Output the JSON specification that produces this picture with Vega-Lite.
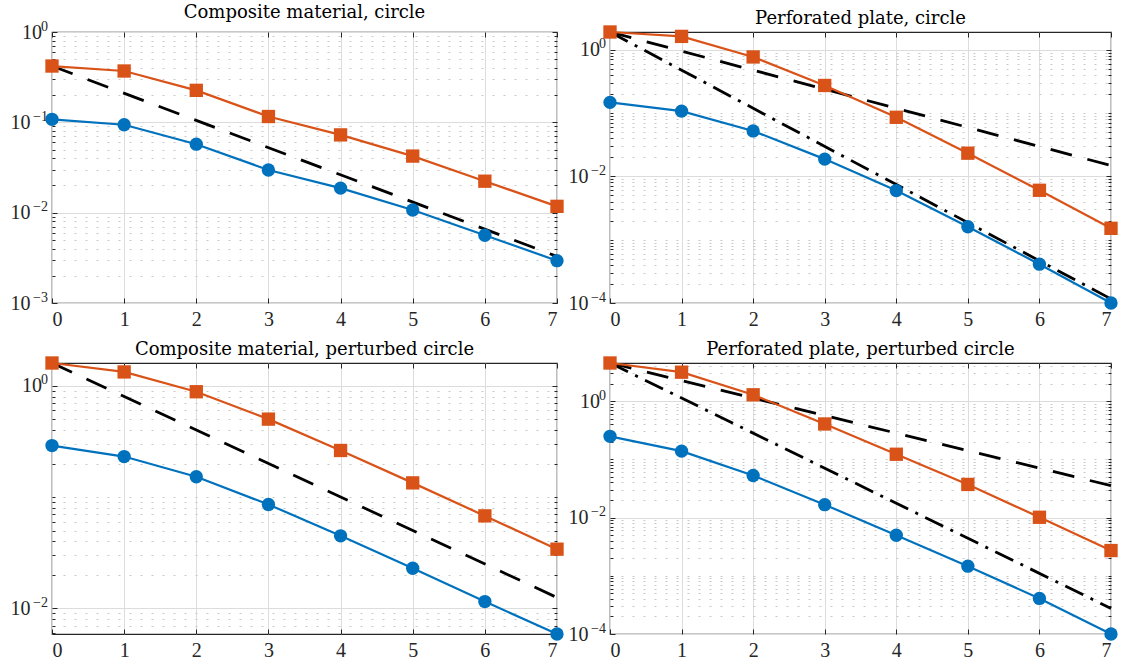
{
  "$schema": "https://vega.github.io/schema/vega-lite/v6.json",
  "background": "white",
  "padding": {"left": 9, "top": 3, "right": 5, "bottom": 0},
  "datasets": {
    "d": [
      {"p": "A", "s": "blue", "k": 0, "v": 0.108},
      {"p": "A", "s": "blue", "k": 1, "v": 0.094},
      {"p": "A", "s": "blue", "k": 2, "v": 0.0573},
      {"p": "A", "s": "blue", "k": 3, "v": 0.0297},
      {"p": "A", "s": "blue", "k": 4, "v": 0.0187},
      {"p": "A", "s": "blue", "k": 5, "v": 0.0107},
      {"p": "A", "s": "blue", "k": 6, "v": 0.00563},
      {"p": "A", "s": "blue", "k": 7, "v": 0.00294},
      {"p": "A", "s": "orange", "k": 0, "v": 0.42},
      {"p": "A", "s": "orange", "k": 1, "v": 0.37},
      {"p": "A", "s": "orange", "k": 2, "v": 0.226},
      {"p": "A", "s": "orange", "k": 3, "v": 0.116},
      {"p": "A", "s": "orange", "k": 4, "v": 0.0726},
      {"p": "A", "s": "orange", "k": 5, "v": 0.0423},
      {"p": "A", "s": "orange", "k": 6, "v": 0.0223},
      {"p": "A", "s": "orange", "k": 7, "v": 0.01175},
      {"p": "A", "s": "dash", "k": 0, "v": 0.42},
      {"p": "A", "s": "dash", "k": 7, "v": 0.00328},

      {"p": "B", "s": "blue", "k": 0, "v": 0.147},
      {"p": "B", "s": "blue", "k": 1, "v": 0.107},
      {"p": "B", "s": "blue", "k": 2, "v": 0.0521},
      {"p": "B", "s": "blue", "k": 3, "v": 0.0187},
      {"p": "B", "s": "blue", "k": 4, "v": 0.00596},
      {"p": "B", "s": "blue", "k": 5, "v": 0.0016},
      {"p": "B", "s": "blue", "k": 6, "v": 0.00041},
      {"p": "B", "s": "blue", "k": 7, "v": 0.0001},
      {"p": "B", "s": "orange", "k": 0, "v": 1.9},
      {"p": "B", "s": "orange", "k": 1, "v": 1.62},
      {"p": "B", "s": "orange", "k": 2, "v": 0.767},
      {"p": "B", "s": "orange", "k": 3, "v": 0.272},
      {"p": "B", "s": "orange", "k": 4, "v": 0.0855},
      {"p": "B", "s": "orange", "k": 5, "v": 0.0232},
      {"p": "B", "s": "orange", "k": 6, "v": 0.00602},
      {"p": "B", "s": "orange", "k": 7, "v": 0.00151},
      {"p": "B", "s": "dash", "k": 0, "v": 1.9},
      {"p": "B", "s": "dash", "k": 7, "v": 0.0148},
      {"p": "B", "s": "dashdot", "k": 0, "v": 1.9},
      {"p": "B", "s": "dashdot", "k": 7, "v": 0.000116},

      {"p": "C", "s": "blue", "k": 0, "v": 0.29},
      {"p": "C", "s": "blue", "k": 1, "v": 0.231},
      {"p": "C", "s": "blue", "k": 2, "v": 0.152},
      {"p": "C", "s": "blue", "k": 3, "v": 0.0857},
      {"p": "C", "s": "blue", "k": 4, "v": 0.0448},
      {"p": "C", "s": "blue", "k": 5, "v": 0.0229},
      {"p": "C", "s": "blue", "k": 6, "v": 0.0115},
      {"p": "C", "s": "blue", "k": 7, "v": 0.00588},
      {"p": "C", "s": "orange", "k": 0, "v": 1.6},
      {"p": "C", "s": "orange", "k": 1, "v": 1.33},
      {"p": "C", "s": "orange", "k": 2, "v": 0.883},
      {"p": "C", "s": "orange", "k": 3, "v": 0.501},
      {"p": "C", "s": "orange", "k": 4, "v": 0.262},
      {"p": "C", "s": "orange", "k": 5, "v": 0.134},
      {"p": "C", "s": "orange", "k": 6, "v": 0.0677},
      {"p": "C", "s": "orange", "k": 7, "v": 0.034},
      {"p": "C", "s": "dash", "k": 0, "v": 1.6},
      {"p": "C", "s": "dash", "k": 7, "v": 0.0125},

      {"p": "D", "s": "blue", "k": 0, "v": 0.248},
      {"p": "D", "s": "blue", "k": 1, "v": 0.138},
      {"p": "D", "s": "blue", "k": 2, "v": 0.0527},
      {"p": "D", "s": "blue", "k": 3, "v": 0.0166},
      {"p": "D", "s": "blue", "k": 4, "v": 0.00496},
      {"p": "D", "s": "blue", "k": 5, "v": 0.00146},
      {"p": "D", "s": "blue", "k": 6, "v": 0.000408},
      {"p": "D", "s": "blue", "k": 7, "v": 0.0001},
      {"p": "D", "s": "orange", "k": 0, "v": 4.5},
      {"p": "D", "s": "orange", "k": 1, "v": 3.13},
      {"p": "D", "s": "orange", "k": 2, "v": 1.28},
      {"p": "D", "s": "orange", "k": 3, "v": 0.404},
      {"p": "D", "s": "orange", "k": 4, "v": 0.122},
      {"p": "D", "s": "orange", "k": 5, "v": 0.037},
      {"p": "D", "s": "orange", "k": 6, "v": 0.0101},
      {"p": "D", "s": "orange", "k": 7, "v": 0.00271},
      {"p": "D", "s": "dash", "k": 0, "v": 4.5},
      {"p": "D", "s": "dash", "k": 7, "v": 0.0352},
      {"p": "D", "s": "dashdot", "k": 0, "v": 4.5},
      {"p": "D", "s": "dashdot", "k": 7, "v": 0.000275}
    ]
  },
  "columns": 2,
  "spacing": {"row": 60, "column": 53},
  "bounds": "flush",
  "concat": [
    {
      "width": 505, "height": 271,
      "title": {"text": "Composite material, circle", "fontSize": 18, "font": "DejaVu Serif", "fontWeight": "normal", "offset": -3, "frame": "group"},
      "data": {"name": "d"},
      "transform": [{"filter": "datum.p == 'A'"}],
      "layer": [
        {
          "transform": [{"filter": "datum.s == 'dash' || datum.s == 'dashdot'"}],
          "mark": {"type": "line", "color": "black", "strokeWidth": 2.8},
          "encoding": {
            "x": {"field": "k", "type": "quantitative", "scale": {"domain": [0, 7], "nice": false},
              "axis": {"values": [0,1,2,3,4,5,6,7], "grid": true, "gridColor": "#dcdcdc", "tickSize": -5, "labelPadding": 11, "labelFontSize": 20, "domain": false, "title": null}},
            "y": {"field": "v", "type": "quantitative", "scale": {"type": "log", "domain": [0.001, 1], "nice": false},
              "axis": {"values": [0.001,0.002,0.003,0.004,0.005,0.006,0.007,0.008,0.009,0.01,0.02,0.03,0.04,0.05,0.06,0.07,0.08,0.09,0.1,0.2,0.3,0.4,0.5,0.6,0.7,0.8,0.9,1],
                "labelExpr": "datum.value == 1 || datum.value == 0.1 || datum.value == 0.01 || datum.value == 0.001 ? '10' : ''",
                "grid": true,
                "gridColor": {"condition": {"test": "datum.value == 1 || datum.value == 0.1 || datum.value == 0.01 || datum.value == 0.001", "value": "#dcdcdc"}, "value": "#c8c8c8"},
                "gridDash": {"condition": {"test": "datum.value == 1 || datum.value == 0.1 || datum.value == 0.01 || datum.value == 0.001", "value": []}, "value": [2, 9]},
                "tickSize": {"condition": {"test": "datum.value == 1 || datum.value == 0.1 || datum.value == 0.01 || datum.value == 0.001", "value": -5}, "value": -3},
                "labelPadding": {"condition": {"test": "datum.value == 1", "value": 15.5}, "value": 27},
                "labelFontSize": 20, "domain": false, "title": null}},
            "strokeDash": {"field": "s", "type": "nominal", "scale": {"domain": ["dash", "dashdot"], "range": [[22, 16], [20, 8, 3, 8]]}, "legend": null}
          }
        },
        {
          "transform": [{"filter": "datum.s == 'blue' || datum.s == 'orange'"}],
          "mark": {"type": "line", "strokeWidth": 2.2},
          "encoding": {
            "x": {"field": "k", "type": "quantitative", "axis": null},
            "y": {"field": "v", "type": "quantitative",
              "axis": {"orient": "left", "values": [0.001, 0.01, 0.1, 1], "ticks": false, "grid": false, "domain": false, "title": null,
                "labelExpr": "datum.value == 1 ? '0' : datum.value == 0.1 ? '−1' : datum.value == 0.01 ? '−2' : '−3'",
                "labelFontSize": 14, "labelPadding": 4.5, "labelBaseline": "alphabetic", "labelOffset": -2}},
            "color": {"field": "s", "type": "nominal", "scale": {"domain": ["blue", "orange"], "range": ["#0072BD", "#D95319"]}, "legend": null}
          }
        },
        {
          "transform": [{"filter": "datum.s == 'blue' || datum.s == 'orange'"}],
          "mark": {"type": "point", "filled": true, "opacity": 1, "size": 178},
          "encoding": {
            "x": {"field": "k", "type": "quantitative",
              "axis": {"orient": "top", "values": [0,1,2,3,4,5,6,7], "labels": false, "grid": false, "domain": false, "tickSize": -5, "title": null}},
            "y": {"field": "v", "type": "quantitative",
              "axis": {"orient": "right", "values": [0.001,0.002,0.003,0.004,0.005,0.006,0.007,0.008,0.009,0.01,0.02,0.03,0.04,0.05,0.06,0.07,0.08,0.09,0.1,0.2,0.3,0.4,0.5,0.6,0.7,0.8,0.9,1],
                "labels": false, "grid": false, "domain": false, "title": null,
                "tickSize": {"condition": {"test": "datum.value == 1 || datum.value == 0.1 || datum.value == 0.01 || datum.value == 0.001", "value": -5}, "value": -3}}},
            "color": {"field": "s", "type": "nominal", "legend": null},
            "shape": {"field": "s", "type": "nominal", "scale": {"domain": ["blue", "orange"], "range": ["circle", "square"]}, "legend": null}
          }
        }
      ],
      "resolve": {"axis": {"x": "independent", "y": "independent"}}
    },
    {
      "width": 501, "height": 271,
      "title": {"text": "Perforated plate, circle", "fontSize": 18, "font": "DejaVu Serif", "fontWeight": "normal", "offset": -3, "frame": "group"},
      "data": {"name": "d"},
      "transform": [{"filter": "datum.p == 'B'"}],
      "layer": [
        {
          "transform": [{"filter": "datum.s == 'dash' || datum.s == 'dashdot'"}],
          "mark": {"type": "line", "color": "black", "strokeWidth": 2.8},
          "encoding": {
            "x": {"field": "k", "type": "quantitative", "scale": {"domain": [0, 7], "nice": false},
              "axis": {"values": [0,1,2,3,4,5,6,7], "grid": true, "gridColor": "#dcdcdc", "tickSize": -5, "labelPadding": 11, "labelFontSize": 20, "domain": false, "title": null}},
            "y": {"field": "v", "type": "quantitative", "scale": {"type": "log", "domain": [0.0001, 1.9], "nice": false},
              "axis": {"values": [0.0001,0.0002,0.0003,0.0004,0.0005,0.0006,0.0007,0.0008,0.0009,0.001,0.002,0.003,0.004,0.005,0.006,0.007,0.008,0.009,0.01,0.02,0.03,0.04,0.05,0.06,0.07,0.08,0.09,0.1,0.2,0.3,0.4,0.5,0.6,0.7,0.8,0.9,1],
                "labelExpr": "datum.value == 1 || datum.value == 0.01 || datum.value == 0.0001 ? '10' : ''",
                "grid": true,
                "gridColor": {"condition": {"test": "datum.value == 1 || datum.value == 0.01 || datum.value == 0.0001", "value": "#dcdcdc"}, "value": "#c8c8c8"},
                "gridDash": {"condition": {"test": "datum.value == 1 || datum.value == 0.01 || datum.value == 0.0001", "value": []}, "value": [2, 9]},
                "tickSize": {"condition": {"test": "datum.value == 1 || datum.value == 0.01 || datum.value == 0.0001", "value": -5}, "value": -3},
                "labelPadding": {"condition": {"test": "datum.value == 1", "value": 15.5}, "value": 27},
                "labelFontSize": 20, "domain": false, "title": null}},
            "strokeDash": {"field": "s", "type": "nominal", "scale": {"domain": ["dash", "dashdot"], "range": [[22, 16], [20, 8, 3, 8]]}, "legend": null}
          }
        },
        {
          "transform": [{"filter": "datum.s == 'blue' || datum.s == 'orange'"}],
          "mark": {"type": "line", "strokeWidth": 2.2},
          "encoding": {
            "x": {"field": "k", "type": "quantitative", "axis": null},
            "y": {"field": "v", "type": "quantitative",
              "axis": {"orient": "left", "values": [0.0001, 0.01, 1], "ticks": false, "grid": false, "domain": false, "title": null,
                "labelExpr": "datum.value == 1 ? '0' : datum.value == 0.01 ? '−2' : '−4'",
                "labelFontSize": 14, "labelPadding": 4.5, "labelBaseline": "alphabetic", "labelOffset": -2}},
            "color": {"field": "s", "type": "nominal", "legend": null}
          }
        },
        {
          "transform": [{"filter": "datum.s == 'blue' || datum.s == 'orange'"}],
          "mark": {"type": "point", "filled": true, "opacity": 1, "size": 178},
          "encoding": {
            "x": {"field": "k", "type": "quantitative",
              "axis": {"orient": "top", "values": [0,1,2,3,4,5,6,7], "labels": false, "grid": false, "domain": false, "tickSize": -5, "title": null}},
            "y": {"field": "v", "type": "quantitative",
              "axis": {"orient": "right", "values": [0.0001,0.0002,0.0003,0.0004,0.0005,0.0006,0.0007,0.0008,0.0009,0.001,0.002,0.003,0.004,0.005,0.006,0.007,0.008,0.009,0.01,0.02,0.03,0.04,0.05,0.06,0.07,0.08,0.09,0.1,0.2,0.3,0.4,0.5,0.6,0.7,0.8,0.9,1],
                "labels": false, "grid": false, "domain": false, "title": null,
                "tickSize": {"condition": {"test": "datum.value == 1 || datum.value == 0.01 || datum.value == 0.0001", "value": -5}, "value": -3}}},
            "color": {"field": "s", "type": "nominal", "legend": null},
            "shape": {"field": "s", "type": "nominal", "scale": {"domain": ["blue", "orange"], "range": ["circle", "square"]}, "legend": null}
          }
        }
      ],
      "resolve": {"axis": {"x": "independent", "y": "independent"}}
    },
    {
      "width": 505, "height": 271,
      "title": {"text": "Composite material, perturbed circle", "fontSize": 18, "font": "DejaVu Serif", "fontWeight": "normal", "offset": -3, "frame": "group"},
      "data": {"name": "d"},
      "transform": [{"filter": "datum.p == 'C'"}],
      "layer": [
        {
          "transform": [{"filter": "datum.s == 'dash' || datum.s == 'dashdot'"}],
          "mark": {"type": "line", "color": "black", "strokeWidth": 2.8},
          "encoding": {
            "x": {"field": "k", "type": "quantitative", "scale": {"domain": [0, 7], "nice": false},
              "axis": {"values": [0,1,2,3,4,5,6,7], "grid": true, "gridColor": "#dcdcdc", "tickSize": -5, "labelPadding": 11, "labelFontSize": 20, "domain": false, "title": null}},
            "y": {"field": "v", "type": "quantitative", "scale": {"type": "log", "domain": [0.00588, 1.6], "nice": false},
              "axis": {"values": [0.006,0.007,0.008,0.009,0.01,0.02,0.03,0.04,0.05,0.06,0.07,0.08,0.09,0.1,0.2,0.3,0.4,0.5,0.6,0.7,0.8,0.9,1],
                "labelExpr": "datum.value == 1 || datum.value == 0.01 ? '10' : ''",
                "grid": true,
                "gridColor": {"condition": {"test": "datum.value == 1 || datum.value == 0.01", "value": "#dcdcdc"}, "value": "#c8c8c8"},
                "gridDash": {"condition": {"test": "datum.value == 1 || datum.value == 0.01", "value": []}, "value": [2, 9]},
                "tickSize": {"condition": {"test": "datum.value == 1 || datum.value == 0.01", "value": -5}, "value": -3},
                "labelPadding": {"condition": {"test": "datum.value == 1", "value": 15.5}, "value": 27},
                "labelFontSize": 20, "domain": false, "title": null}},
            "strokeDash": {"field": "s", "type": "nominal", "scale": {"domain": ["dash", "dashdot"], "range": [[22, 16], [20, 8, 3, 8]]}, "legend": null}
          }
        },
        {
          "transform": [{"filter": "datum.s == 'blue' || datum.s == 'orange'"}],
          "mark": {"type": "line", "strokeWidth": 2.2},
          "encoding": {
            "x": {"field": "k", "type": "quantitative", "axis": null},
            "y": {"field": "v", "type": "quantitative",
              "axis": {"orient": "left", "values": [0.01, 1], "ticks": false, "grid": false, "domain": false, "title": null,
                "labelExpr": "datum.value == 1 ? '0' : '−2'",
                "labelFontSize": 14, "labelPadding": 4.5, "labelBaseline": "alphabetic", "labelOffset": -2}},
            "color": {"field": "s", "type": "nominal", "legend": null}
          }
        },
        {
          "transform": [{"filter": "datum.s == 'blue' || datum.s == 'orange'"}],
          "mark": {"type": "point", "filled": true, "opacity": 1, "size": 178},
          "encoding": {
            "x": {"field": "k", "type": "quantitative",
              "axis": {"orient": "top", "values": [0,1,2,3,4,5,6,7], "labels": false, "grid": false, "domain": false, "tickSize": -5, "title": null}},
            "y": {"field": "v", "type": "quantitative",
              "axis": {"orient": "right", "values": [0.006,0.007,0.008,0.009,0.01,0.02,0.03,0.04,0.05,0.06,0.07,0.08,0.09,0.1,0.2,0.3,0.4,0.5,0.6,0.7,0.8,0.9,1],
                "labels": false, "grid": false, "domain": false, "title": null,
                "tickSize": {"condition": {"test": "datum.value == 1 || datum.value == 0.01", "value": -5}, "value": -3}}},
            "color": {"field": "s", "type": "nominal", "legend": null},
            "shape": {"field": "s", "type": "nominal", "scale": {"domain": ["blue", "orange"], "range": ["circle", "square"]}, "legend": null}
          }
        }
      ],
      "resolve": {"axis": {"x": "independent", "y": "independent"}}
    },
    {
      "width": 501, "height": 271,
      "title": {"text": "Perforated plate, perturbed circle", "fontSize": 18, "font": "DejaVu Serif", "fontWeight": "normal", "offset": -3, "frame": "group"},
      "data": {"name": "d"},
      "transform": [{"filter": "datum.p == 'D'"}],
      "layer": [
        {
          "transform": [{"filter": "datum.s == 'dash' || datum.s == 'dashdot'"}],
          "mark": {"type": "line", "color": "black", "strokeWidth": 2.8},
          "encoding": {
            "x": {"field": "k", "type": "quantitative", "scale": {"domain": [0, 7], "nice": false},
              "axis": {"values": [0,1,2,3,4,5,6,7], "grid": true, "gridColor": "#dcdcdc", "tickSize": -5, "labelPadding": 11, "labelFontSize": 20, "domain": false, "title": null}},
            "y": {"field": "v", "type": "quantitative", "scale": {"type": "log", "domain": [0.0001, 4.5], "nice": false},
              "axis": {"values": [0.0001,0.0002,0.0003,0.0004,0.0005,0.0006,0.0007,0.0008,0.0009,0.001,0.002,0.003,0.004,0.005,0.006,0.007,0.008,0.009,0.01,0.02,0.03,0.04,0.05,0.06,0.07,0.08,0.09,0.1,0.2,0.3,0.4,0.5,0.6,0.7,0.8,0.9,1,2,3,4],
                "labelExpr": "datum.value == 1 || datum.value == 0.01 || datum.value == 0.0001 ? '10' : ''",
                "grid": true,
                "gridColor": {"condition": {"test": "datum.value == 1 || datum.value == 0.01 || datum.value == 0.0001", "value": "#dcdcdc"}, "value": "#c8c8c8"},
                "gridDash": {"condition": {"test": "datum.value == 1 || datum.value == 0.01 || datum.value == 0.0001", "value": []}, "value": [2, 9]},
                "tickSize": {"condition": {"test": "datum.value == 1 || datum.value == 0.01 || datum.value == 0.0001", "value": -5}, "value": -3},
                "labelPadding": {"condition": {"test": "datum.value == 1", "value": 15.5}, "value": 27},
                "labelFontSize": 20, "domain": false, "title": null}},
            "strokeDash": {"field": "s", "type": "nominal", "scale": {"domain": ["dash", "dashdot"], "range": [[22, 16], [20, 8, 3, 8]]}, "legend": null}
          }
        },
        {
          "transform": [{"filter": "datum.s == 'blue' || datum.s == 'orange'"}],
          "mark": {"type": "line", "strokeWidth": 2.2},
          "encoding": {
            "x": {"field": "k", "type": "quantitative", "axis": null},
            "y": {"field": "v", "type": "quantitative",
              "axis": {"orient": "left", "values": [0.0001, 0.01, 1], "ticks": false, "grid": false, "domain": false, "title": null,
                "labelExpr": "datum.value == 1 ? '0' : datum.value == 0.01 ? '−2' : '−4'",
                "labelFontSize": 14, "labelPadding": 4.5, "labelBaseline": "alphabetic", "labelOffset": -2}},
            "color": {"field": "s", "type": "nominal", "legend": null}
          }
        },
        {
          "transform": [{"filter": "datum.s == 'blue' || datum.s == 'orange'"}],
          "mark": {"type": "point", "filled": true, "opacity": 1, "size": 178},
          "encoding": {
            "x": {"field": "k", "type": "quantitative",
              "axis": {"orient": "top", "values": [0,1,2,3,4,5,6,7], "labels": false, "grid": false, "domain": false, "tickSize": -5, "title": null}},
            "y": {"field": "v", "type": "quantitative",
              "axis": {"orient": "right", "values": [0.0001,0.0002,0.0003,0.0004,0.0005,0.0006,0.0007,0.0008,0.0009,0.001,0.002,0.003,0.004,0.005,0.006,0.007,0.008,0.009,0.01,0.02,0.03,0.04,0.05,0.06,0.07,0.08,0.09,0.1,0.2,0.3,0.4,0.5,0.6,0.7,0.8,0.9,1,2,3,4],
                "labels": false, "grid": false, "domain": false, "title": null,
                "tickSize": {"condition": {"test": "datum.value == 1 || datum.value == 0.01 || datum.value == 0.0001", "value": -5}, "value": -3}}},
            "color": {"field": "s", "type": "nominal", "legend": null},
            "shape": {"field": "s", "type": "nominal", "scale": {"domain": ["blue", "orange"], "range": ["circle", "square"]}, "legend": null}
          }
        }
      ],
      "resolve": {"axis": {"x": "independent", "y": "independent"}}
    }
  ],
  "config": {
    "font": "Liberation Serif",
    "view": {"stroke": "#262626", "strokeWidth": 1.2},
    "axis": {"labelFont": "Liberation Serif", "labelFontSize": 20, "labelColor": "#262626", "tickColor": "#262626", "tickWidth": 1},
    "title": {"font": "DejaVu Serif", "fontSize": 18, "fontWeight": "normal", "color": "#000000"}
  }
}
